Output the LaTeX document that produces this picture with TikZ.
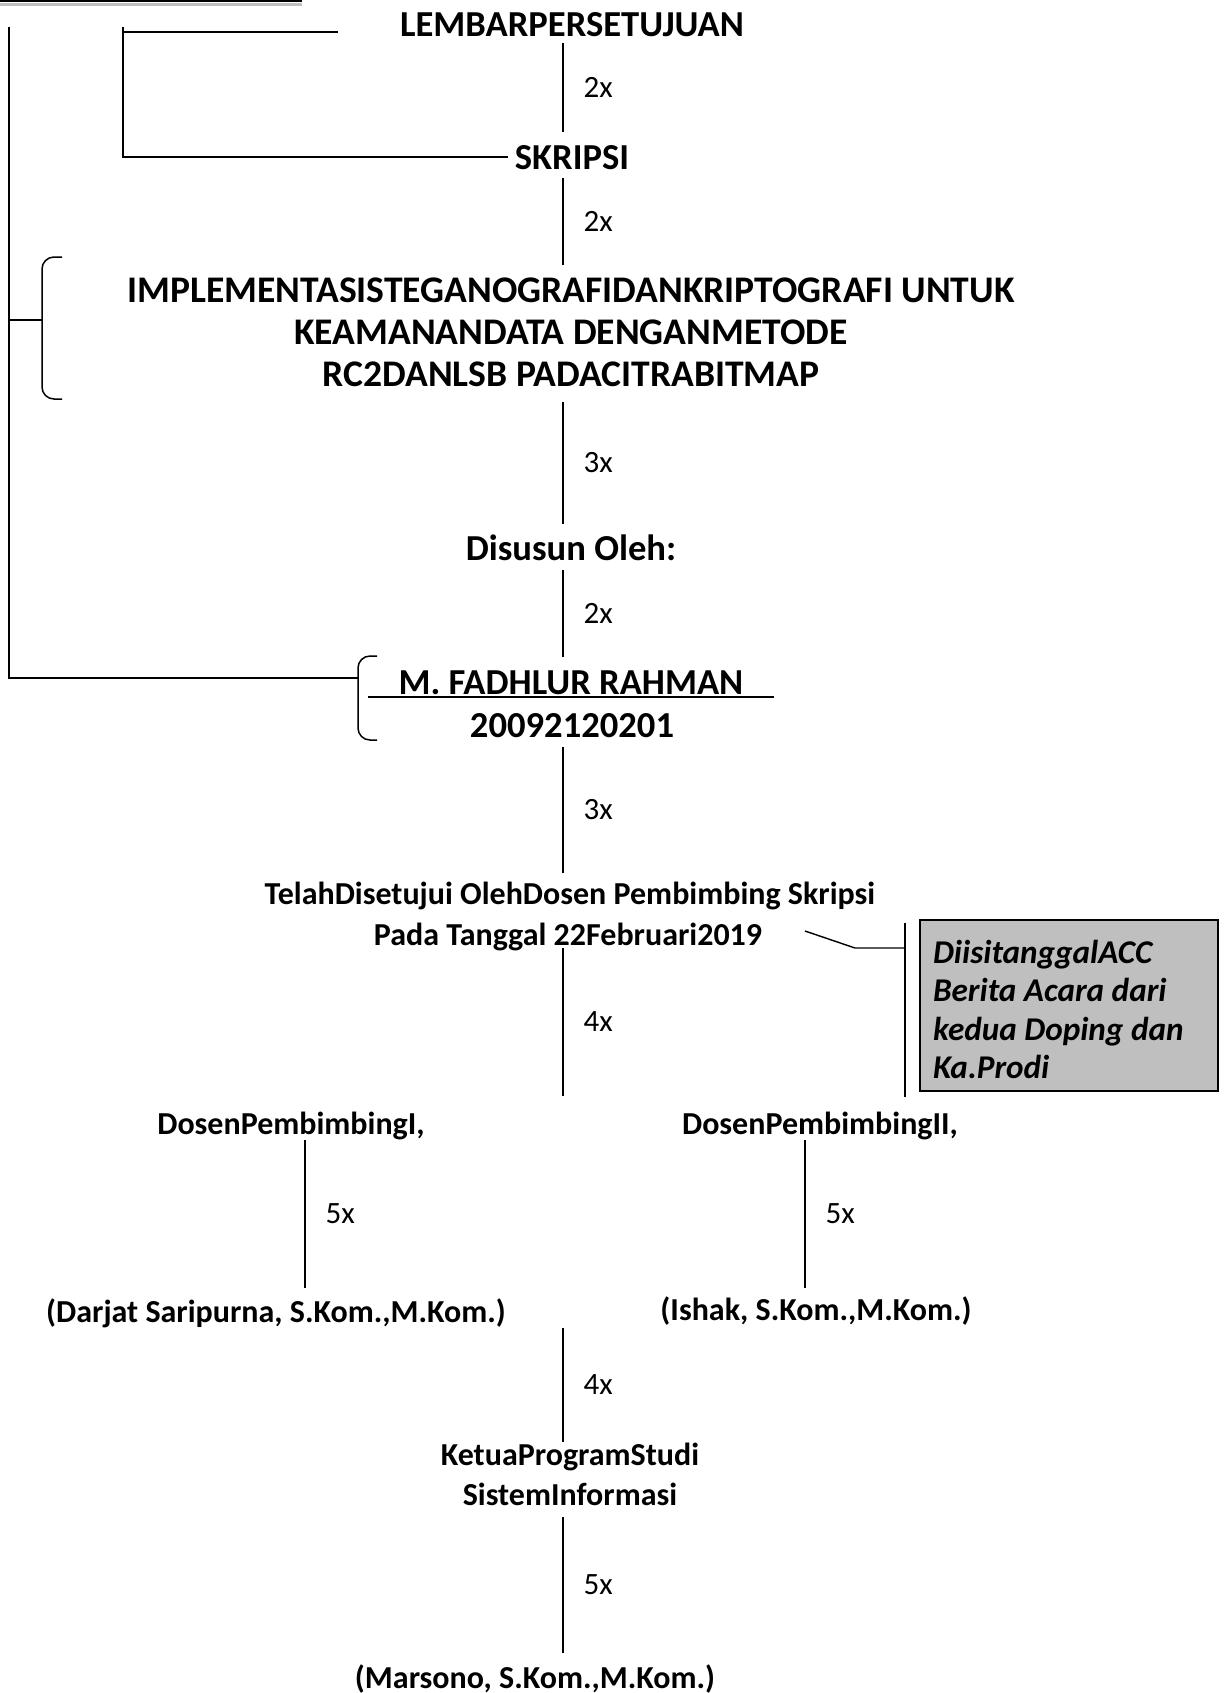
\documentclass[tikz,border=0pt]{standalone}
\usepackage{fontspec}
\setmainfont{Carlito}
\usepackage{tikz}
\usetikzlibrary{calc,positioning}
\definecolor{abuabu}{HTML}{BFBFBF}

\begin{document}
\begin{tikzpicture}[x=0.5pt, y=-0.5pt,
  besar/.style={font=\fontsize{18.3}{19.5}\selectfont\bfseries, anchor=base, inner sep=3pt},
  sedang/.style={font=\fontsize{16}{20}\selectfont\bfseries, anchor=base, inner sep=3pt},
  lbl/.style={font=\fontsize{15.5}{18}\selectfont, anchor=west, inner sep=0pt, xshift=10pt},
  garis/.style={black, line width=0.7pt},
  cabang/.style={black, line width=0.75pt},
  kurung/.style={black, line width=0.75pt, rounded corners=6pt},
  kotak/.style={draw=black, line width=1pt, fill=abuabu},
  catatan/.style={inner sep=0pt, text width=129pt, align=flush left,
    font=\fontsize{16.6}{19.3}\selectfont\bfseries\itshape}
]
\useasboundingbox (0,0) rectangle (1227,1693);
% ── Garis tepi atas ──────────────────────────────
\draw[black, line width=1pt] (0,1) -- (302,1);
\draw[abuabu, line width=1.5pt] (0,4.5) -- (302,4.5);
% ── Judul dan nama ───────────────────────────────
\node[besar] (lembar) at (572,36) {LEMBARPERSETUJUAN};
\node[besar] (skripsi) at (572,169) {SKRIPSI};
\node[besar, anchor=center, align=center,
  font=\fontsize{18.8}{21}\selectfont\bfseries] (judul) at (571,332)
  {IMPLEMENTASISTEGANOGRAFIDANKRIPTOGRAFI UNTUK\\
   KEAMANANDATA DENGANMETODE\\
   RC2DANLSB PADACITRABITMAP};
\node[besar] (disusun) at (571,560) {Disusun Oleh:};
\node[besar, inner xsep=15pt] (nama) at (571,694) {M. FADHLUR RAHMAN};
\draw[line width=1.2pt] ([yshift=-1.5pt]nama.base west) -- ([yshift=-1.5pt]nama.base east);
\node[besar] (nim) at (572,737) {20092120201};
% ── Pengesahan ───────────────────────────────────
\node[sedang] (telah) at (570,904) {TelahDisetujui OlehDosen Pembimbing Skripsi};
\node[sedang] (pada) at (568,945) {Pada Tanggal 22Februari2019};
\node[sedang] (dosen1) at (291,1134) {DosenPembimbingI,};
\node[sedang] (dosen2) at (820,1134) {DosenPembimbingII,};
\node[sedang] (darjat) at (276,1322) {(Darjat Saripurna, S.Kom.,M.Kom.)};
\node[sedang] (ishak) at (816,1320) {(Ishak, S.Kom.,M.Kom.)};
\node[sedang] (ketua) at (570,1465) {KetuaProgramStudi};
\node[sedang] (sistem) at (570,1505) {SistemInformasi};
\node[sedang] (marsono) at (535,1688) {(Marsono, S.Kom.,M.Kom.)};
% ── Jarak antar baris (garis tengah) ─────────────
\foreach \ya/\yb/\n [count=\i] in {43/132/2x, 178/265/2x, 402/524/3x, 570/657/2x,
    747/873/3x, 948/1096/4x, 1328/1442/4x, 1517/1653/5x} {
  \coordinate (atas\i) at (563,\ya);
  \coordinate (bawah\i) at (563,\yb);
  \draw[garis] (atas\i) -- node[lbl] {\n} (bawah\i);
}
\coordinate (kiriA) at (305,1140);
\coordinate (kiriB) at (305,1288);
\coordinate (kananA) at (805,1140);
\coordinate (kananB) at (805,1288);
\draw[garis] (kiriA) -- node[lbl] {5x} (kiriB);
\draw[garis] (kananA) -- node[lbl] {5x} (kananB);
% ── Catatan ──────────────────────────────────────
\draw[kotak] (920,920) rectangle (1218,1091);
\node[catatan] (catatan) at (1062,1009.5)
  {DiisitanggalACC\\Berita Acara dari\\kedua Doping dan\\Ka.Prodi};
\coordinate (ujung) at (805,931);
\coordinate (siku) at (855,948);
\coordinate (batasA) at (905,923);
\coordinate (batasB) at (905,1097);
\draw[garis] (ujung) -- (siku) -- (siku -| batasA);
\draw[garis] (batasA) -- (batasB);
% ── Kerangka kiri ────────────────────────────────
\coordinate (puncakA) at (9,27);
\coordinate (puncakB) at (123,27);
\coordinate (ujungLembar) at (338,32);
\coordinate (kurung1) at (42,320);
\coordinate (kurung2) at (358,678);
\draw[cabang] (puncakB) -- (skripsi.west -| puncakB) -- (skripsi.west);
\draw[cabang] (puncakB |- ujungLembar) -- (ujungLembar);
\draw[cabang] (puncakA) |- (kurung2);
\draw[cabang] (kurung1 -| puncakA) -- (kurung1);
\draw[kurung] (62,257) -- (42,257) -- (42,399) -- (62,399);
\draw[kurung] (377,656) -- (358,656) -- (358,740) -- (377,740);
\end{tikzpicture}
\end{document}
